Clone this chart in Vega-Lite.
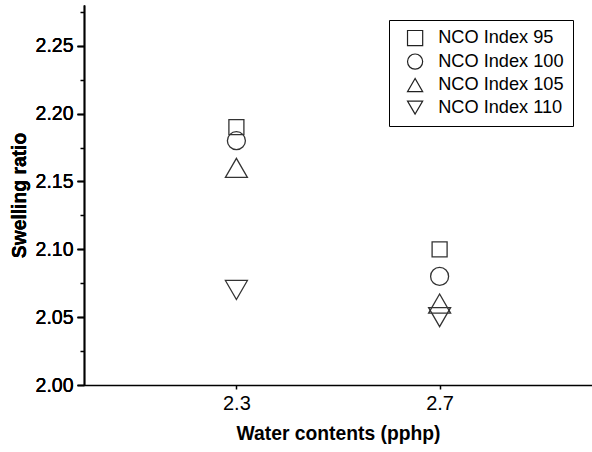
{
  "$schema": "https://vega.github.io/schema/vega-lite/v6.json",
  "width": 508,
  "height": 380,
  "autosize": "none",
  "padding": {"left": 84, "top": 5, "right": 0, "bottom": 67},
  "background": "white",
  "config": {
    "view": {"stroke": null},
    "font": "Liberation Sans",
    "axis": {"labelFont": "Liberation Sans", "titleFont": "Liberation Sans", "labelColor": "black", "titleColor": "black", "domainColor": "black", "tickColor": "black", "grid": false}
  },
  "data": {
    "values": [
      {"water": 2.3, "series": "NCO Index 95", "ratio": 2.19},
      {"water": 2.3, "series": "NCO Index 100", "ratio": 2.18},
      {"water": 2.3, "series": "NCO Index 105", "ratio": 2.16},
      {"water": 2.3, "series": "NCO Index 110", "ratio": 2.07},
      {"water": 2.7, "series": "NCO Index 95", "ratio": 2.10},
      {"water": 2.7, "series": "NCO Index 100", "ratio": 2.08},
      {"water": 2.7, "series": "NCO Index 105", "ratio": 2.06},
      {"water": 2.7, "series": "NCO Index 110", "ratio": 2.05}
    ]
  },
  "encoding": {
    "x": {
      "field": "water", "type": "quantitative",
      "scale": {"domain": [2.0, 3.0], "nice": false, "zero": false},
      "axis": {"title": "Water contents (pphp)", "values": [2.3, 2.7], "format": ".1f", "tickSize": 4, "tickWidth": 1.5, "domainWidth": 1.5, "labelFontSize": 20, "labelPadding": 4, "titleFontSize": 19.3, "titleFontWeight": "bold", "titlePadding": 11}
    },
    "y": {
      "field": "ratio", "type": "quantitative",
      "scale": {"domain": [2.0, 2.28], "nice": false, "zero": false},
      "axis": {"orient": "left", "title": "Swelling ratio", "values": [2.0, 2.05, 2.1, 2.15, 2.2, 2.25], "format": ".2f", "tickSize": 7, "tickWidth": 1.5, "domainWidth": 1.5, "labelFontSize": 19.5, "labelPadding": 4, "titleFontSize": 19.3, "titleFontWeight": "bold", "titlePadding": 6}
    },
    "shape": {
      "field": "series", "type": "nominal",
      "sort": ["NCO Index 95", "NCO Index 100", "NCO Index 105", "NCO Index 110"],
      "scale": {"domain": ["NCO Index 95", "NCO Index 100", "NCO Index 105", "NCO Index 110"], "range": ["square", "circle", "triangle-up", "triangle-down"]},
      "legend": {
        "title": null, "orient": "none", "legendX": 305, "legendY": 15,
        "strokeColor": "black", "padding": 9, "cornerRadius": 0,
        "symbolSize": 230, "symbolStrokeColor": "#222", "symbolStrokeWidth": 1.2, "symbolFillColor": "transparent",
        "symbolOffset": 8, "labelOffset": 14, "labelFontSize": 18.2, "labelFont": "Liberation Sans", "labelColor": "black", "rowPadding": 2.5, "fillColor": "white"
      }
    }
  },
  "resolve": {"axis": {"y": "independent"}},
  "layer": [
    {
      "transform": [{"filter": "datum.series === 'NCO Index 105' || datum.series === 'NCO Index 110'"}],
      "mark": {"type": "point", "filled": false, "stroke": "#333", "strokeWidth": 1.3, "opacity": 1, "size": 484}
    },
    {
      "transform": [{"filter": "datum.series === 'NCO Index 100'"}],
      "mark": {"type": "point", "filled": false, "stroke": "#333", "strokeWidth": 1.3, "opacity": 1, "size": 324}
    },
    {
      "transform": [{"filter": "datum.series === 'NCO Index 95'"}],
      "mark": {"type": "point", "filled": false, "stroke": "#333", "strokeWidth": 1.3, "opacity": 1, "size": 225}
    },
    {
      "mark": {"type": "point", "opacity": 0},
      "encoding": {
        "shape": {"value": "circle"},
        "x": {"value": 0},
        "y": {
          "field": "ratio", "type": "quantitative",
          "axis": {"orient": "left", "title": null, "labels": false, "domain": false, "values": [2.025, 2.075, 2.125, 2.175, 2.225, 2.275], "tickSize": 4, "tickWidth": 1.5}
        }
      }
    }
  ]
}
